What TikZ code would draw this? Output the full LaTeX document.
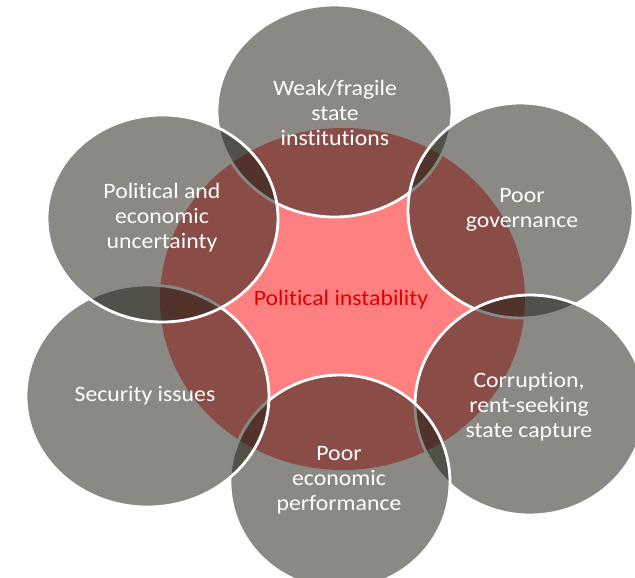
\documentclass[tikz,border=0pt]{standalone}
\usepackage{fontspec}
\setmainfont[FakeStretch=1.08, Ligatures=NoCommon]{Carlito}
\usetikzlibrary{shapes.geometric}
\definecolor{greyfill}{RGB}{30,29,20}
\definecolor{pinkfill}{RGB}{255,128,128}
\definecolor{titlered}{RGB}{225,0,0}
\tikzset{
  bubble/.style={ellipse, inner sep=0pt, outer sep=0pt, fill=greyfill, fill opacity=0.52,
    draw=white, draw opacity=1, line width=2.8pt},
  core/.style={ellipse, inner sep=0pt, fill=pinkfill, draw=none},
  btext/.style={text=white, align=center, font=\fontsize{22}{25}\selectfont},
  ctext/.style={text=titlered, align=center, font=\fontsize{22}{25}\selectfont}
}
\begin{document}
\begin{tikzpicture}[x=1pt, y=-1pt]
\useasboundingbox (0,0) rectangle (635,578);
\node[core, minimum width=365pt, minimum height=342pt] (core) at (342.5,299) {};
\node[bubble, minimum width=235pt, minimum height=212pt] (w) at (334.5,111) {};
\node[bubble, minimum width=225pt, minimum height=215pt] (g) at (520.5,210.5) {};
\node[bubble, minimum width=230pt, minimum height=220pt] (c) at (530,405) {};
\node[bubble, minimum width=220pt, minimum height=214pt] (e) at (340,482) {};
\node[bubble, minimum width=243pt, minimum height=222pt] (s) at (147.5,396) {};
\node[bubble, minimum width=231pt, minimum height=207pt] (pe) at (162.5,218.5) {};
\node[btext] (wt) at (335,113) {Weak/fragile\\state\\institutions};
\node[btext] (gt) at (522,210) {Poor\\governance};
\node[btext] (ct) at (529,407) {Corruption,\\rent-seeking\\state capture};
\node[btext] (et) at (339,480) {Poor\\economic\\performance};
\node[btext] (st) at (145,396) {Security issues};
\node[btext] (pet) at (162,218) {Political and\\economic\\uncertainty};
\node[ctext] (coret) at (341,300) {Political instability};
\end{tikzpicture}
\end{document}
